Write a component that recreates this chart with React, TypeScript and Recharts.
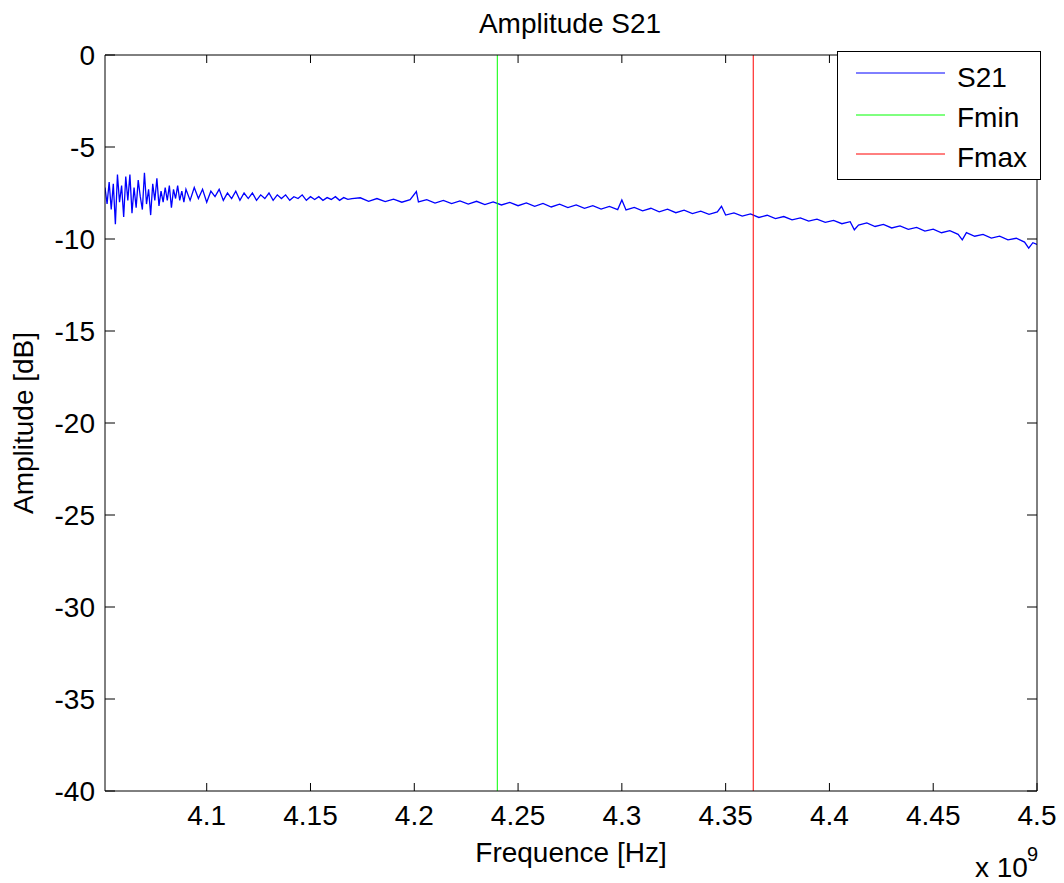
import React from 'react';
import { LineChart, Line, XAxis, YAxis, Legend } from 'recharts';

const FONT = '"Liberation Sans", Arial, Helvetica, sans-serif';

const X_DOMAIN: [number, number] = [4.051, 4.5];
const Y_DOMAIN: [number, number] = [-40, 0];
const X_TICKS = [4.1, 4.15, 4.2, 4.25, 4.3, 4.35, 4.4, 4.45, 4.5];
const Y_TICKS = [-40, -35, -30, -25, -20, -15, -10, -5, 0];

const F_MIN = 4.24;
const F_MAX = 4.3633;

const SERIES_NAMES = ['S21', 'Fmin', 'Fmax'];
const SERIES_COLORS = ['#0000ff', '#00ff00', '#ff0000'];

// [frequency (GHz), amplitude (dB)]
const S21_POINTS: [number, number][] = [
  [4.051, -7.2], [4.052, -8.1], [4.053, -6.9], [4.054, -8.4], [4.055, -7.0],
  [4.056, -9.2], [4.057, -6.5], [4.058, -8.0], [4.059, -7.1], [4.060, -8.8],
  [4.061, -6.6], [4.062, -7.9], [4.063, -6.5], [4.064, -8.6], [4.065, -7.2],
  [4.066, -8.3], [4.067, -6.8], [4.068, -7.7], [4.069, -8.4], [4.070, -6.4],
  [4.071, -8.1], [4.072, -7.3], [4.073, -8.7], [4.074, -7.0], [4.075, -7.9],
  [4.076, -6.7], [4.077, -8.2], [4.078, -7.4], [4.079, -8.0], [4.080, -7.2],
  [4.081, -7.9], [4.082, -7.1], [4.083, -8.3], [4.084, -7.3], [4.085, -7.8],
  [4.086, -7.1], [4.087, -7.9], [4.088, -7.4], [4.089, -8.0], [4.090, -7.3],
  [4.092, -7.9], [4.094, -7.2], [4.096, -7.8], [4.098, -7.3], [4.100, -8.0],
  [4.102, -7.4], [4.104, -7.7], [4.106, -7.3], [4.108, -7.9], [4.110, -7.5],
  [4.112, -7.8], [4.114, -7.4], [4.116, -7.9], [4.118, -7.5], [4.120, -7.8],
  [4.122, -7.5], [4.124, -7.9], [4.126, -7.6], [4.128, -7.8], [4.130, -7.5],
  [4.132, -7.9], [4.134, -7.6], [4.136, -7.8], [4.138, -7.6], [4.140, -7.9],
  [4.142, -7.7], [4.144, -7.8], [4.146, -7.6], [4.148, -7.9], [4.150, -7.7],
  [4.152, -7.85], [4.154, -7.7], [4.156, -7.9], [4.158, -7.75], [4.160, -7.85],
  [4.162, -7.7], [4.164, -7.9], [4.166, -7.75], [4.168, -7.85], [4.170, -7.8],
  [4.174, -7.76], [4.178, -7.95], [4.182, -7.80], [4.186, -7.97], [4.190, -7.83],
  [4.194, -8.00], [4.198, -7.86], [4.201, -7.42], [4.202, -7.98], [4.206, -7.86],
  [4.210, -8.05], [4.214, -7.90], [4.218, -8.08], [4.222, -7.93], [4.226, -8.10],
  [4.230, -7.95], [4.234, -8.13], [4.238, -7.98], [4.242, -8.15], [4.246, -8.01],
  [4.250, -8.19], [4.254, -8.04], [4.258, -8.22], [4.262, -8.07], [4.266, -8.26],
  [4.270, -8.11], [4.274, -8.29], [4.278, -8.15], [4.282, -8.33], [4.286, -8.19],
  [4.290, -8.37], [4.294, -8.23], [4.298, -8.40], [4.300, -7.88], [4.302, -8.42],
  [4.306, -8.28], [4.310, -8.47], [4.314, -8.33], [4.318, -8.52], [4.322, -8.38],
  [4.326, -8.57], [4.330, -8.43], [4.334, -8.62], [4.338, -8.49], [4.342, -8.66],
  [4.346, -8.53], [4.348, -8.22], [4.350, -8.70], [4.354, -8.58], [4.358, -8.76],
  [4.362, -8.64], [4.366, -8.83], [4.370, -8.71], [4.374, -8.89], [4.378, -8.78],
  [4.382, -8.96], [4.386, -8.85], [4.390, -9.03], [4.394, -8.92], [4.398, -9.10],
  [4.402, -8.99], [4.406, -9.17], [4.410, -9.06], [4.412, -9.50], [4.414, -9.24],
  [4.418, -9.13], [4.422, -9.32], [4.426, -9.21], [4.430, -9.40], [4.434, -9.29],
  [4.438, -9.48], [4.442, -9.37], [4.446, -9.57], [4.450, -9.46], [4.454, -9.66],
  [4.458, -9.55], [4.462, -9.75], [4.464, -10.05], [4.466, -9.65], [4.470, -9.85],
  [4.474, -9.75], [4.478, -9.95], [4.482, -9.85], [4.486, -10.05], [4.490, -9.96],
  [4.494, -10.17], [4.496, -10.50], [4.498, -10.20], [4.500, -10.30],
];

const s21Data = S21_POINTS.map(([f, a]) => ({ f, a }));
const fminData = [{ f: F_MIN, a: Y_DOMAIN[0] }, { f: F_MIN, a: Y_DOMAIN[1] }];
const fmaxData = [{ f: F_MAX, a: Y_DOMAIN[0] }, { f: F_MAX, a: Y_DOMAIN[1] }];

const X_TICK_LEN = 8;
const Y_TICK_LEN = 10;
const FS = 28;

const BottomTick = (props: any) => {
  const { x, y, payload } = props;
  return (
    <g>
      <line x1={x} y1={y} x2={x} y2={y - X_TICK_LEN} stroke="#000" strokeWidth={1} />
      <text x={x} y={y + 34} textAnchor="middle" fontSize={FS} fontFamily={FONT} fill="#000">
        {String(payload.value)}
      </text>
    </g>
  );
};

const TopTick = (props: any) => {
  const { x, y } = props;
  return <line x1={x} y1={y} x2={x} y2={y + X_TICK_LEN} stroke="#000" strokeWidth={1} />;
};

const LeftTick = (props: any) => {
  const { x, y, payload } = props;
  return (
    <g>
      <line x1={x} y1={y} x2={x + Y_TICK_LEN} y2={y} stroke="#000" strokeWidth={1} />
      <text x={x - 10} y={y + 10} textAnchor="end" fontSize={FS} fontFamily={FONT} fill="#000">
        {String(payload.value)}
      </text>
    </g>
  );
};

const RightTick = (props: any) => {
  const { x, y } = props;
  return <line x1={x} y1={y} x2={x - Y_TICK_LEN} y2={y} stroke="#000" strokeWidth={1} />;
};

const LegendBox = () => (
  <svg width={205} height={130} style={{ display: 'block' }}>
    <rect x={0.5} y={0.5} width={203} height={128} fill="#fff" stroke="#000" strokeWidth={1} />
    {SERIES_NAMES.map((name, i) => {
      const ly = [22, 64, 103][i];
      const ty = [36, 76, 116][i];
      return (
        <g key={name}>
          <line x1={19} y1={ly} x2={108} y2={ly} stroke={SERIES_COLORS[i]} strokeWidth={1} />
          <text x={120} y={ty} fontSize={FS} fontFamily={FONT} fill="#000">{name}</text>
        </g>
      );
    })}
  </svg>
);

export default function App() {
  return (
    <div style={{ position: 'absolute', left: 0, top: 0, background: '#fff' }}>
      <LineChart width={1064} height={883} margin={{ top: 54, right: 26, bottom: 0, left: 0 }}>
        <XAxis
          xAxisId="bottom"
          dataKey="f"
          type="number"
          domain={X_DOMAIN}
          allowDataOverflow
          ticks={X_TICKS}
          interval={0}
          tickSize={0}
          tickMargin={0}
          tickLine={false}
          tick={<BottomTick />}
          height={92}
          axisLine={{ stroke: '#000' }}
          label={{
            content: (p: any) => {
              const vb = p.viewBox;
              return (
                <g fontFamily={FONT} fill="#000">
                  <text x={vb.x + vb.width / 2} y={vb.y + 71} textAnchor="middle" fontSize={FS}>
                    Frequence [Hz]
                  </text>
                  <text x={975} y={877} fontSize={FS}>x 10</text>
                  <text x={1027} y={861} fontSize={20}>9</text>
                </g>
              );
            },
          }}
        />
        <XAxis
          xAxisId="top"
          orientation="top"
          dataKey="f"
          type="number"
          domain={X_DOMAIN}
          allowDataOverflow
          ticks={X_TICKS}
          interval={0}
          tickSize={0}
          tickMargin={0}
          tickLine={false}
          tick={<TopTick />}
          height={1}
          axisLine={{ stroke: '#000' }}
          label={{
            content: (p: any) => {
              const vb = p.viewBox;
              return (
                <text x={vb.x + vb.width / 2 - 1} y={33} textAnchor="middle" fontSize={FS} fontFamily={FONT} fill="#000">
                  Amplitude S21
                </text>
              );
            },
          }}
        />
        <YAxis
          yAxisId="left"
          type="number"
          domain={Y_DOMAIN}
          allowDataOverflow
          ticks={Y_TICKS}
          interval={0}
          tickSize={0}
          tickMargin={0}
          tickLine={false}
          tick={<LeftTick />}
          width={105}
          axisLine={{ stroke: '#000' }}
          label={{
            content: (p: any) => {
              const vb = p.viewBox;
              const cy = vb.y + vb.height / 2;
              return (
                <text
                  x={33}
                  y={cy}
                  transform={`rotate(-90 33 ${cy})`}
                  textAnchor="middle"
                  fontSize={FS}
                  fontFamily={FONT}
                  fill="#000"
                >
                  Amplitude [dB]
                </text>
              );
            },
          }}
        />
        <YAxis
          yAxisId="right"
          orientation="right"
          type="number"
          domain={Y_DOMAIN}
          allowDataOverflow
          ticks={Y_TICKS}
          interval={0}
          tickSize={0}
          tickMargin={0}
          tickLine={false}
          tick={<RightTick />}
          width={1}
          axisLine={{ stroke: '#000' }}
        />
        <Line
          xAxisId="bottom"
          yAxisId="left"
          data={s21Data}
          dataKey="a"
          name={SERIES_NAMES[0]}
          stroke={SERIES_COLORS[0]}
          strokeWidth={1.3}
          dot={false}
          isAnimationActive={false}
        />
        <Line
          xAxisId="top"
          yAxisId="left"
          data={fminData}
          dataKey="a"
          name={SERIES_NAMES[1]}
          stroke={SERIES_COLORS[1]}
          strokeWidth={1}
          dot={false}
          isAnimationActive={false}
        />
        <Line
          xAxisId="bottom"
          yAxisId="right"
          data={fmaxData}
          dataKey="a"
          name={SERIES_NAMES[2]}
          stroke={SERIES_COLORS[2]}
          strokeWidth={1}
          dot={false}
          isAnimationActive={false}
        />
        <Legend
          layout="horizontal"
          verticalAlign="middle"
          align="center"
          content={<LegendBox />}
          wrapperStyle={{ left: 837, top: 51, width: 205, height: 130, margin: 0, padding: 0, lineHeight: 0 }}
        />
      </LineChart>
    </div>
  );
}
